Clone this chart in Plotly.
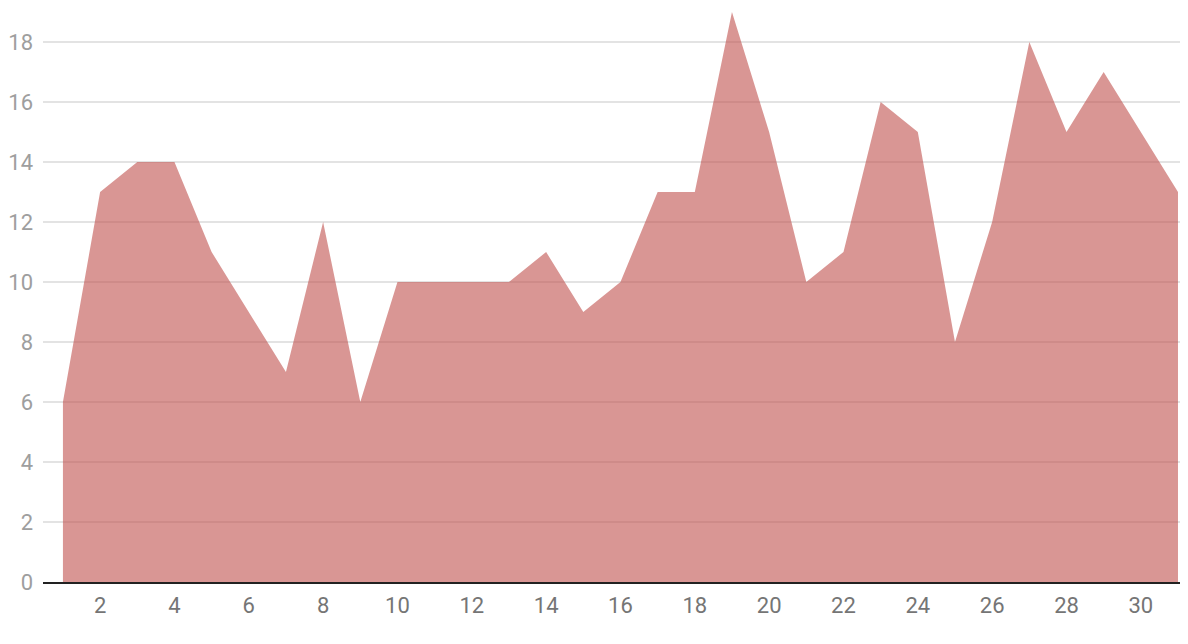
import plotly.graph_objects as go

days = list(range(1, 32))
values = [6, 13, 14, 14, 11, 9, 7, 12, 6, 10, 10, 10, 10, 11, 9, 10, 13, 13, 19, 15,
          10, 11, 16, 15, 8, 12, 18, 15, 17, 15, 13]
x_ticks = list(range(2, 31, 2))
y_ticks = list(range(0, 19, 2))

fig = go.Figure()
fig.add_trace(go.Scatter(
    x=days, y=values, mode="lines", fill="tozeroy",
    line=dict(width=0, color="rgba(192,80,77,0.6)"),
    fillcolor="rgba(192,80,77,0.6)",
    hoverinfo="x+y", showlegend=False,
))

fig.update_layout(
    width=1172, height=628,
    margin=dict(l=32, r=0, t=0, b=54),
    paper_bgcolor="white", plot_bgcolor="white",
    font=dict(family="Roboto", size=22),
    xaxis=dict(
        range=[0.4634, 31.054], tickvals=x_ticks, showgrid=False,
        showline=True, linecolor="#222222", linewidth=2,
        ticks="", tickfont=dict(color="#757575", size=22), zeroline=False,
        ticklabelstandoff=3,
    ),
    yaxis=dict(
        range=[0, 19.133], tickvals=y_ticks, showgrid=True,
        gridcolor="#e3e3e3", gridwidth=2, zeroline=False,
        ticks="", ticklabelstandoff=9,
        tickfont=dict(color="#9e9e9e", size=22),
    ),
)

fig.write_html("out.html")
